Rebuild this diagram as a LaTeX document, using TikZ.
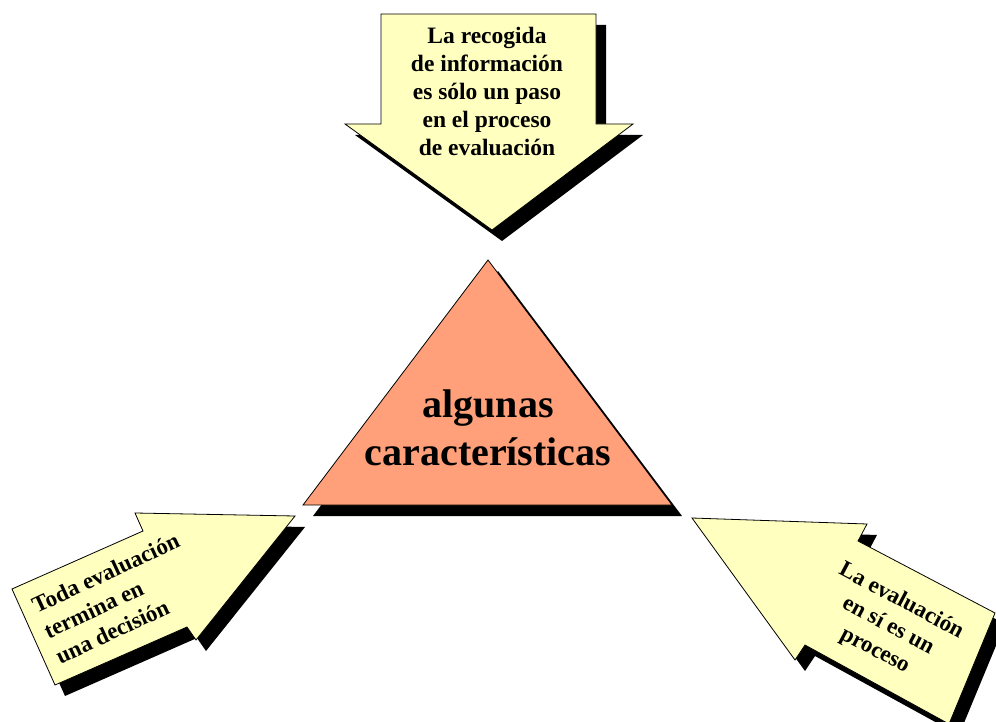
\documentclass[tikz,border=0pt]{standalone}
\usepackage{fontspec}
\setmainfont{Liberation Serif}
\usetikzlibrary{calc}
\definecolor{paleyellow}{RGB}{255,255,192}
\definecolor{salmon}{RGB}{255,160,122}
\newcommand{\TopArrow}{(381,14) -- (596,14) -- (596,124) -- (633,124) -- (492,230) -- (345,124) -- (381,124) -- cycle}
\newcommand{\LeftArrow}{(12,589) -- (143,531) -- (135,513) -- (295,516) -- (196,640) -- (187,627) -- (55,685) -- cycle}
\newcommand{\RightArrow}{(692,518) -- (867,524) -- (858,541) -- (995,613) -- (949,724) -- (805,645) -- (795,660) -- cycle}
\newcommand{\Pyramid}{(488,260) -- (672,505) -- (303,505) -- cycle}

\begin{document}
\begin{tikzpicture}[x=1pt, y=-1pt,
  shade off/.style={fill=black, shift={(10,11)}},
  block/.style={draw=black, line width=.8pt, line join=miter},
  small label/.style={inner sep=0pt, font=\bfseries\fontsize{23}{28}\selectfont}]
\clip (0,0) rectangle (996,722);
% shadows first
\fill[shade off] \TopArrow;
\fill[shade off] \Pyramid;
\fill[shade off] \LeftArrow;
\fill[shade off] \RightArrow;
\draw[block, fill=paleyellow] \TopArrow;
\draw[block, fill=salmon] \Pyramid;
\draw[block, fill=paleyellow] \LeftArrow;
\draw[block, fill=paleyellow] \RightArrow;
\node at (487,91) [name=paso, small label, font=\bfseries\fontsize{23.5}{28}\selectfont, align=center] {La recogida\\de información\\es sólo un paso\\en el proceso\\de evaluación};
\node at (488,428) [name=titulo, inner sep=0pt, font=\bfseries\fontsize{40}{48}\selectfont, align=center] {algunas\\características};
\node at (45,632) [name=decision, small label, anchor=west, rotate=25, align=left] {Toda evaluación\\termina en\\una decisión};
\node at (888,626) [name=proceso, small label, rotate=-28, align=center] {La evaluación\\en sí es un\\proceso};
\end{tikzpicture}
\end{document}
